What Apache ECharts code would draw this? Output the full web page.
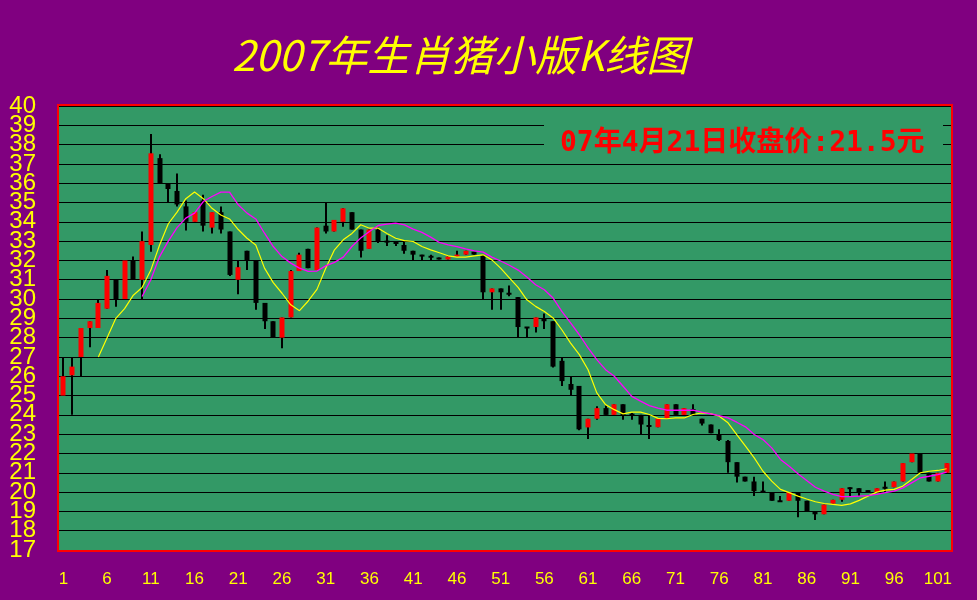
<!DOCTYPE html>
<html>
<head>
<meta charset="utf-8">
<script src="https://cdn.jsdelivr.net/npm/echarts@6/dist/echarts.min.js"></script>
<style>
html,body{margin:0;padding:0;background:#800080;}
#chart{width:977px;height:600px;}
</style>
</head>
<body>
<div id="chart"></div>
<script>
// Trading-day numbers (category axis)
const days = ['1','2','3','4','5','6','7','8','9','10','11','12','13','14','15','16','17','18','19','20',
'21','22','23','24','25','26','27','28','29','30','31','32','33','34','35','36','37','38','39','40',
'41','42','43','44','45','46','47','48','49','50','51','52','53','54','55','56','57','58','59','60',
'61','62','63','64','65','66','67','68','69','70','71','72','73','74','75','76','77','78','79','80',
'81','82','83','84','85','86','87','88','89','90','91','92','93','94','95','96','97','98','99','100',
'101','102'];

const opens = [25.0,26.05,27.0,28.5,28.5,29.5,31.0,30.0,32.0,31.0,
32.8,37.3,36.0,35.6,34.8,34.0,35.1,33.7,34.5,33.5,
31.0,32.5,32.0,29.8,28.85,28.0,29.05,31.45,32.6,31.5,
33.8,33.5,34.0,34.5,33.6,32.6,33.6,33.0,33.0,32.8,
32.5,32.3,32.2,32.15,32.05,32.2,32.3,32.45,32.25,30.35,
30.55,30.3,30.1,28.55,28.55,29.0,28.85,26.8,25.6,25.5,
23.35,23.8,24.35,24.0,24.55,24.02,24.0,23.45,23.36,23.8,
24.55,24.0,24.3,23.8,23.5,23.0,22.65,21.55,20.8,20.55,
20.05,20.0,19.55,19.55,20.0,19.55,19.0,18.85,19.4,19.6,
20.25,20.2,20.08,20.0,20.25,20.25,20.55,21.55,22.0,21.0,
20.55,21.0];
const closes = [26.0,26.5,28.5,28.85,29.8,31.2,30.0,32.0,31.0,33.0,
37.55,36.0,35.7,34.9,34.0,34.5,33.8,34.5,33.6,31.25,
31.65,32.0,29.8,28.85,28.0,29.05,31.45,32.3,31.6,33.7,
33.5,34.1,34.7,33.6,32.5,33.6,33.0,32.95,32.85,32.5,
32.3,32.2,32.18,32.05,32.2,32.3,32.5,32.3,30.35,30.55,
30.35,30.25,28.55,28.5,29.05,28.85,26.5,25.75,25.3,23.25,
23.8,24.35,24.0,24.55,24.0,24.0,23.5,23.4,23.8,24.55,
24.0,24.35,24.0,23.55,23.05,22.7,21.55,20.8,20.55,20.05,
20.0,19.55,19.5,20.0,19.55,19.0,18.85,19.35,19.6,20.2,
20.15,20.0,20.02,20.2,20.2,20.55,21.5,22.0,21.0,20.55,
21.0,21.5];
const lows = [25.0,24.0,26.0,27.5,28.5,29.5,29.6,30.0,31.0,30.0,
32.45,36.0,35.0,34.8,33.55,34.0,33.5,33.4,33.4,31.2,
30.25,31.5,29.45,28.45,28.0,27.45,29.05,31.45,31.6,31.5,
33.4,33.5,33.75,33.6,32.15,32.6,32.9,32.75,32.75,32.35,
32.0,32.0,32.0,32.05,32.05,32.2,32.3,32.3,30.0,29.45,
29.45,30.15,28.0,28.0,28.27,28.45,26.45,25.5,25.0,23.2,
22.75,23.75,24.0,24.0,23.75,23.75,23.0,22.75,23.36,23.8,
24.0,24.0,24.0,23.45,23.05,22.65,21.0,20.5,20.55,19.8,
20.0,19.55,19.5,19.55,18.7,19.0,18.55,18.85,19.4,19.5,
19.75,19.8,20.02,20.0,20.0,20.25,20.55,21.55,21.0,20.55,
20.55,21.0];
const highs = [27.0,27.0,28.5,28.85,30.0,31.5,31.0,32.0,32.2,33.5,
38.55,37.5,36.0,36.5,35.1,34.5,35.4,34.5,34.8,33.5,
32.0,32.5,32.0,29.8,28.85,29.05,31.5,32.4,32.6,33.7,
35.0,34.1,34.7,34.5,33.6,33.6,33.7,33.3,33.0,33.0,
32.5,32.3,32.3,32.15,32.2,32.5,32.5,32.45,32.3,30.55,
30.55,30.7,30.1,28.55,29.05,29.25,28.85,27.0,26.0,25.5,
23.8,24.45,24.5,24.55,24.55,24.1,24.0,24.0,23.8,24.55,
24.55,24.35,24.55,23.8,23.5,23.25,22.7,21.55,20.8,20.8,
20.55,20.0,19.8,20.0,20.0,19.55,19.0,19.35,19.6,20.2,
20.25,20.2,20.08,20.2,20.55,20.55,21.5,22.0,22.0,21.0,
21.0,21.5];

// Yellow average line
const maYellow = [null,null,null,null,27.0,28.0,29.0,29.5,30.2,30.6,
31.5,32.8,33.9,34.5,35.2,35.55,35.2,34.7,34.35,34.15,
33.6,33.15,32.8,31.6,30.85,30.3,29.7,29.4,29.9,30.5,
31.6,32.55,33.07,33.4,33.85,33.67,33.67,33.4,33.15,33.03,
32.98,32.72,32.55,32.4,32.24,32.17,32.17,32.24,32.29,32.03,
31.6,31.1,30.6,29.96,29.62,29.36,29.02,28.41,27.72,27.12,
26.34,25.14,24.53,24.27,24.05,24.14,24.14,24.02,23.82,23.8,
23.84,23.84,24.02,24.1,24.07,23.93,23.59,22.98,22.38,21.77,
21.08,20.57,20.14,19.97,19.79,19.64,19.5,19.41,19.36,19.31,
19.39,19.57,19.79,20.0,20.1,20.14,20.31,20.65,21.0,21.08,
21.12,21.21];
// Magenta average line
const maMagenta = [null,null,null,null,null,null,null,null,null,30.13,
31.0,32.2,33.0,33.7,34.19,34.45,35.05,35.31,35.54,35.54,
34.88,34.45,34.15,33.41,32.72,32.2,31.86,31.6,31.43,31.45,
31.72,31.9,32.17,32.72,33.16,33.5,33.81,33.88,33.93,33.84,
33.62,33.45,33.21,32.93,32.81,32.72,32.6,32.5,32.43,32.17,
31.97,31.75,31.5,31.14,30.74,30.48,30.05,29.36,28.76,28.15,
27.47,26.86,26.34,26.0,25.48,24.96,24.71,24.48,24.35,24.24,
24.24,24.24,24.24,24.14,24.05,23.96,23.84,23.62,23.38,22.98,
22.72,22.29,21.69,21.34,20.95,20.6,20.25,20.05,19.88,19.76,
19.76,19.79,19.82,19.88,19.97,20.05,20.22,20.48,20.74,20.82,
20.91,21.03];

const yMin = 17, yMax = 40;
const titleText = '2007年生肖猪小版K线图';
const noteText = '07年4月21日收盘价:21.5元';

const kData = days.map((d, i) => [i, opens[i], closes[i], lows[i], highs[i]]);

function renderK(params, api) {
  const idx = api.value(0);
  const o = api.value(1), c = api.value(2), l = api.value(3), h = api.value(4);
  const pO = api.coord([idx, o]);
  const pC = api.coord([idx, c]);
  const pL = api.coord([idx, l]);
  const pH = api.coord([idx, h]);
  const x = Math.round(pO[0]);
  let top = Math.min(pO[1], pC[1]);
  let bot = Math.max(pO[1], pC[1]);
  if (bot - top < 2) { const m = (top + bot) / 2; top = m - 1; bot = m + 1; }
  const up = c >= o;
  return {
    type: 'group',
    children: [
      { type: 'line', shape: { x1: x, y1: pH[1], x2: x, y2: pL[1] }, style: { stroke: '#000000', lineWidth: 2 } },
      { type: 'rect', shape: { x: x - 2.5, y: top, width: 5, height: bot - top }, style: { fill: up ? '#FF0000' : '#000000' } }
    ]
  };
}

const yLabelStyle = { color: '#FFFF00', fontSize: 24, fontFamily: 'Liberation Sans, Arial, sans-serif', margin: 23, padding: [4, 0, 0, 0] };

const chart = echarts.init(document.getElementById('chart'), null, { renderer: 'canvas' });
chart.setOption({
  backgroundColor: '#800080',
  animation: false,
  grid: { left: 59, right: 26, top: 106, bottom: 50, show: true, backgroundColor: '#339966', borderWidth: 0 },
  xAxis: {
    type: 'category', data: days, boundaryGap: true,
    axisLine: { show: false }, axisTick: { show: false },
    axisLabel: { interval: 4, color: '#FFFF00', fontSize: 17, fontFamily: 'Liberation Sans, Arial, sans-serif', margin: 21 },
    splitLine: { show: false }
  },
  yAxis: [
    {
      type: 'value', min: yMin, max: yMax, interval: 1, position: 'left',
      axisLine: { show: false }, axisTick: { show: false },
      axisLabel: Object.assign({ showMinLabel: false, showMaxLabel: false }, yLabelStyle),
      splitLine: { show: true, lineStyle: { color: '#000000', width: 1 } }
    },
    {
      type: 'value', min: yMin, max: yMax, interval: yMax - yMin, position: 'left', offset: 0,
      axisLine: { show: false }, axisTick: { show: false },
      axisLabel: Object.assign({ showMinLabel: true, showMaxLabel: true }, yLabelStyle),
      splitLine: { show: false }
    }
  ],
  series: [
    { type: 'custom', renderItem: renderK, data: kData, encode: { x: 0, y: [1, 2, 3, 4] }, z: 3 },
    { type: 'line', data: maYellow, symbol: 'none', lineStyle: { color: '#FFFF00', width: 1.2 }, z: 4 },
    { type: 'line', data: maMagenta, symbol: 'none', lineStyle: { color: '#FF00FF', width: 1.3 }, z: 4 }
  ],
  graphic: [
    { type: 'rect', z: 100, shape: { x: 544, y: 114, width: 399, height: 44 }, style: { fill: '#339966' } },
    { type: 'text', z: 101, x: 560, y: 144, style: { text: noteText, fill: '#FF0000', font: 'bold 28px "DejaVu Sans Mono", "Noto Sans CJK SC", monospace', align: 'left', verticalAlign: 'middle' } },
    { type: 'rect', z: 102, shape: { x: 58, y: 105, width: 894, height: 446 }, style: { fill: 'none', stroke: '#FF0000', lineWidth: 2 } },
    { type: 'text', z: 101, x: 232, y: 55, style: { text: titleText, fill: '#FFFF00', font: 'italic 42px "Noto Sans CJK SC", sans-serif', align: 'left', verticalAlign: 'middle' } }
  ]
});
</script>
</body>
</html>
